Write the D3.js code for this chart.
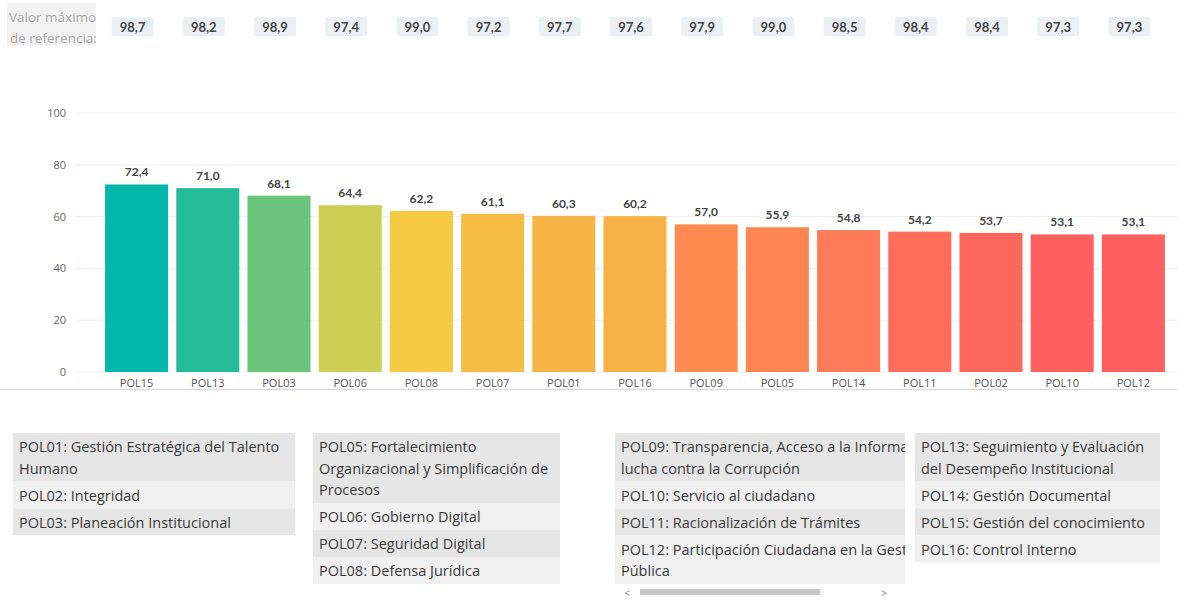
<!DOCTYPE html>
<html>
<head>
<meta charset="utf-8">
<script src="https://cdn.jsdelivr.net/npm/d3@7"></script>
<style>
  body { margin: 0; background: #fff; }
  svg { display: block; font-family: "Open Sans", "Noto Sans", sans-serif; }
</style>
</head>
<body>
<div id="chart"></div>
<script>
// datos del gráfico
const policies = ["POL15", "POL13", "POL03", "POL06", "POL08", "POL07", "POL01", "POL16",
                  "POL09", "POL05", "POL14", "POL11", "POL02", "POL10", "POL12"];
const scores = [72.4, 71.0, 68.1, 64.4, 62.2, 61.1, 60.3, 60.2, 57.0, 55.9, 54.8, 54.2, 53.7, 53.1, 53.1];
const refMax = [98.7, 98.2, 98.9, 97.4, 99.0, 97.2, 97.7, 97.6, 97.9, 99.0, 98.5, 98.4, 98.4, 97.3, 97.3];
const barColors = ["#01b8aa", "#24bc99", "#6cc47c", "#cdcf54", "#f5c942", "#f6bd45", "#f7b447", "#f7b247",
                   "#fe8c51", "#fe8552", "#fe7a58", "#fd6d5a", "#fd675b", "#fd605d", "#fd605e"];
const yTicks = [0, 20, 40, 60, 80, 100];

const legend1 = ["POL01: Gestión Estratégica del Talento Humano", "POL02: Integridad", "POL03: Planeación Institucional"];
const legend2 = ["POL05: Fortalecimiento Organizacional y Simplificación de Procesos", "POL06: Gobierno Digital",
                 "POL07: Seguridad Digital", "POL08: Defensa Jurídica"];
const legend3 = ["POL09: Transparencia, Acceso a la Información y lucha contra la Corrupción",
                 "POL10: Servicio al ciudadano", "POL11: Racionalización de Trámites",
                 "POL12: Participación Ciudadana en la Gestión Pública"];
const legend4 = ["POL13: Seguimiento y Evaluación del Desempeño Institucional", "POL14: Gestión Documental",
                 "POL15: Gestión del conocimiento", "POL16: Control Interno"];

const fmt = d3.formatLocale({ decimal: ",", thousands: ".", grouping: [3], currency: ["$", ""] }).format(".1f");

const W = 1178, H = 600;
const svg = d3.select("#chart").append("svg").attr("width", W).attr("height", H);

const x = d3.scaleBand()
    .domain(policies)
    .range([101, 1169])
    .paddingInner(0.115)
    .paddingOuter(0.0575);

const y = d3.scaleLinear().domain([0, 100]).range([372, 113]);

// Encabezado: valor máximo de referencia
svg.append("rect").attr("x", 7).attr("y", 3).attr("width", 89).attr("height", 43).attr("fill", "#f3f3f3");
svg.append("text").attr("x", 9).attr("y", 22).attr("fill", "#a8a8a8").style("font-size", "13.5px").text("Valor máximo");
svg.append("text").attr("x", 10).attr("y", 43).attr("fill", "#a8a8a8").style("font-size", "13.5px").text("de referencia:");

const pills = svg.selectAll("g.pill")
    .data(policies)
    .enter()
    .append("g")
    .attr("class", "pill")
    .attr("transform", d => `translate(${x(d) + x.bandwidth() / 2 - 4},0)`);

pills.append("rect")
    .attr("x", -21).attr("y", 17).attr("width", 42).attr("height", 19).attr("rx", 2)
    .attr("fill", "#edf0f2");

pills.append("text")
    .attr("y", 32)
    .attr("text-anchor", "middle")
    .attr("fill", "#454545")
    .style("font-size", "13px")
    .style("font-weight", "bold")
    .style("font-family", "Lato, sans-serif")
    .text((d, i) => fmt(refMax[i]));

// Cuadrícula y eje Y
svg.selectAll("line.grid")
    .data(yTicks)
    .enter()
    .append("line")
    .attr("class", "grid")
    .attr("x1", 76).attr("x2", W)
    .attr("y1", d => y(d)).attr("y2", d => y(d))
    .attr("stroke", "#efefef");

svg.selectAll("text.ytick")
    .data(yTicks)
    .enter()
    .append("text")
    .attr("class", "ytick")
    .attr("x", 66)
    .attr("y", d => y(d) + 4)
    .attr("text-anchor", "end")
    .attr("fill", "#666")
    .style("font-size", "11px")
    .text(d => d);

// Barras
svg.selectAll("rect.bar")
    .data(policies)
    .enter()
    .append("rect")
    .attr("class", "bar")
    .attr("x", d => x(d))
    .attr("y", (d, i) => y(scores[i]))
    .attr("width", x.bandwidth())
    .attr("height", (d, i) => y(0) - y(scores[i]))
    .attr("fill", (d, i) => barColors[i]);

// Etiquetas de valor
svg.selectAll("text.value")
    .data(policies)
    .enter()
    .append("text")
    .attr("class", "value")
    .attr("x", d => x(d) + x.bandwidth() / 2)
    .attr("y", (d, i) => y(scores[i]) - 8)
    .attr("text-anchor", "middle")
    .attr("fill", "#444")
    .style("font-size", "12px")
    .style("font-weight", "bold")
    .style("font-family", "Lato, sans-serif")
    .text((d, i) => fmt(scores[i]));

// Etiquetas eje X
svg.selectAll("text.xtick")
    .data(policies)
    .enter()
    .append("text")
    .attr("class", "xtick")
    .attr("x", d => x(d) + x.bandwidth() / 2)
    .attr("y", 387)
    .attr("text-anchor", "middle")
    .attr("fill", "#555")
    .style("font-size", "11px")
    .text(d => d);

svg.append("line").attr("x1", 0).attr("x2", W).attr("y1", 389.5).attr("y2", 389.5).attr("stroke", "#d6d6d6");

// Tablas de leyenda
function wrapLines(text, width, size) {
    const probe = svg.append("text").style("font-size", size + "px");
    const words = text.split(" ");
    const lines = [];
    let line = [];
    words.forEach(w => {
        line.push(w);
        probe.text(line.join(" "));
        if (probe.node().getComputedTextLength() > width && line.length > 1) {
            line.pop();
            lines.push(line.join(" "));
            line = [w];
        }
    });
    lines.push(line.join(" "));
    probe.remove();
    return lines;
}

function drawTable(items, x0, y0, boxW, wrapW, clipW, idx) {
    const lineH = 21.5, pad = 5.5, size = 14.5;
    const g = svg.append("g");
    const clipId = "clip" + idx;
    let cy = y0;
    const rows = items.map(t => {
        const lines = wrapLines(t, wrapW, size);
        const h = lines.length * lineH + pad;
        const r = { lines, y: cy, h };
        cy += h;
        return r;
    });
    svg.append("clipPath").attr("id", clipId)
        .append("rect").attr("x", x0).attr("y", y0).attr("width", clipW).attr("height", cy - y0);
    const inner = g.append("g").attr("clip-path", `url(#${clipId})`);
    rows.forEach((r, i) => {
        inner.append("rect")
            .attr("x", x0).attr("y", r.y).attr("width", boxW).attr("height", r.h)
            .attr("fill", i % 2 === 0 ? "#e6e6e6" : "#f0f0f0");
        r.lines.forEach((l, j) => {
            const t = inner.append("text")
                .attr("x", x0 + 6)
                .attr("y", r.y + 19 + j * lineH)
                .attr("fill", "#3a3a3a")
                .style("font-size", size + "px")
                .text(l);
            // recortar lo que queda fuera del área visible (tabla con scroll)
            const maxW = clipW - 6;
            if (t.node().getComputedTextLength() > maxW) {
                let n = l.length;
                while (n > 1 && t.node().getSubStringLength(0, n - 1) >= maxW) n--;
                t.text(l.slice(0, n));
            }
        });
    });
    return cy;
}

drawTable(legend1, 13, 433, 282, 272, 282, 1);
drawTable(legend2, 313, 433, 247, 240, 247, 2);
drawTable(legend3, 615, 433, 420, 340, 290, 3);
drawTable(legend4, 915, 433, 245, 238, 245, 4);

// Barra de desplazamiento
svg.append("rect").attr("x", 640).attr("y", 589).attr("width", 180).attr("height", 6).attr("fill", "#c8c8c8");
svg.append("text").attr("x", 627).attr("y", 597).attr("text-anchor", "middle").attr("fill", "#888").style("font-size", "10px").text("<");
svg.append("text").attr("x", 884).attr("y", 597).attr("text-anchor", "middle").attr("fill", "#888").style("font-size", "10px").text(">");
</script>
</body>
</html>
